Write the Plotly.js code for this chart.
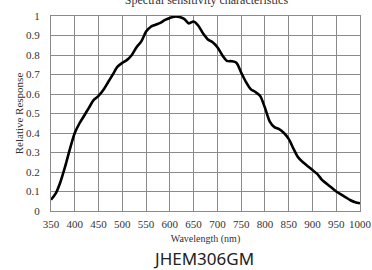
<!DOCTYPE html>
<html>
<head>
<meta charset="utf-8">
<script src="https://cdn.plot.ly/plotly-3.0.1.min.js"></script>
<style>
html,body{margin:0;padding:0;background:#fff;}
#chart{width:372px;height:270px;}
</style>
</head>
<body>
<div id="chart"></div>
<script>
const wavelength = [350,360,370,380,390,400,410,420,430,440,450,460,470,480,490,500,510,520,530,540,550,560,570,580,590,600,610,620,630,640,650,660,670,680,690,700,710,720,730,740,750,760,770,780,790,800,810,820,830,840,850,860,870,880,890,900,910,920,930,940,950,960,970,980,990,1000];
const response = [0.058,0.09,0.15,0.23,0.32,0.40,0.45,0.49,0.53,0.57,0.59,0.62,0.66,0.70,0.74,0.76,0.775,0.80,0.84,0.87,0.92,0.945,0.955,0.965,0.98,0.99,0.997,0.995,0.985,0.962,0.972,0.95,0.91,0.88,0.865,0.84,0.80,0.77,0.768,0.76,0.71,0.662,0.625,0.61,0.59,0.53,0.46,0.43,0.42,0.40,0.37,0.32,0.275,0.25,0.23,0.21,0.19,0.16,0.14,0.12,0.10,0.085,0.07,0.055,0.045,0.04];
const xTicks = [350,400,450,500,550,600,650,700,750,800,850,900,950,1000];
const yTicks = [0,0.1,0.2,0.3,0.4,0.5,0.6,0.7,0.8,0.9,1];
const yTickText = ['0','0.1','0.2','0.3','0.4','0.5','0.6','0.7','0.8','0.9','1'];

const serif = '"Times New Roman", "Liberation Serif", "DejaVu Serif", serif';
const trace = {
  x: wavelength, y: response, type: 'scatter', mode: 'lines',
  line: {color: '#000', width: 2.6, shape: 'spline', smoothing: 0.8},
  hoverinfo: 'skip'
};
const layout = {
  width: 372, height: 270,
  margin: {l: 51, r: 12, t: 16, b: 59},
  paper_bgcolor: '#fff', plot_bgcolor: '#fff',
  showlegend: false,
  title: {text: 'Spectral sensitivity characteristics', font: {family: serif, size: 12, color: '#333'},
          x: 0.555, xanchor: 'center', y: 0.985, yanchor: 'bottom', yref: 'container'},
  xaxis: {
    range: [350, 1000], tickvals: xTicks, ticktext: xTicks.map(String),
    showgrid: true, gridcolor: '#8a8a8a', gridwidth: 1,
    showline: true, linecolor: '#8a8a8a', linewidth: 1, mirror: true,
    zeroline: false, ticks: 'outside', ticklen: 3, tickcolor: 'rgba(0,0,0,0)',
    tickfont: {family: serif, size: 11, color: '#333'},
    title: {text: 'Wavelength (nm)', font: {family: serif, size: 10, color: '#333'}, standoff: 5}
  },
  yaxis: {
    range: [0, 1], tickvals: yTicks, ticktext: yTickText,
    showgrid: true, gridcolor: '#8a8a8a', gridwidth: 1,
    showline: true, linecolor: '#8a8a8a', linewidth: 1, mirror: true,
    zeroline: false, ticks: 'outside', ticklen: 8, tickcolor: 'rgba(0,0,0,0)',
    tickfont: {family: serif, size: 11, color: '#333'},
    title: {text: 'Relative Response', font: {family: serif, size: 11, color: '#333'}, standoff: 0}
  },
  annotations: [{
    text: 'JHEM306GM', xref: 'paper', yref: 'paper', x: 0.495, y: 0, yshift: -47,
    xanchor: 'center', yanchor: 'middle', showarrow: false,
    font: {family: 'Noto Sans', size: 17, color: '#222'}
  }]
};
Plotly.newPlot('chart', [trace], layout, {displayModeBar: false, staticPlot: true});
</script>
</body>
</html>
